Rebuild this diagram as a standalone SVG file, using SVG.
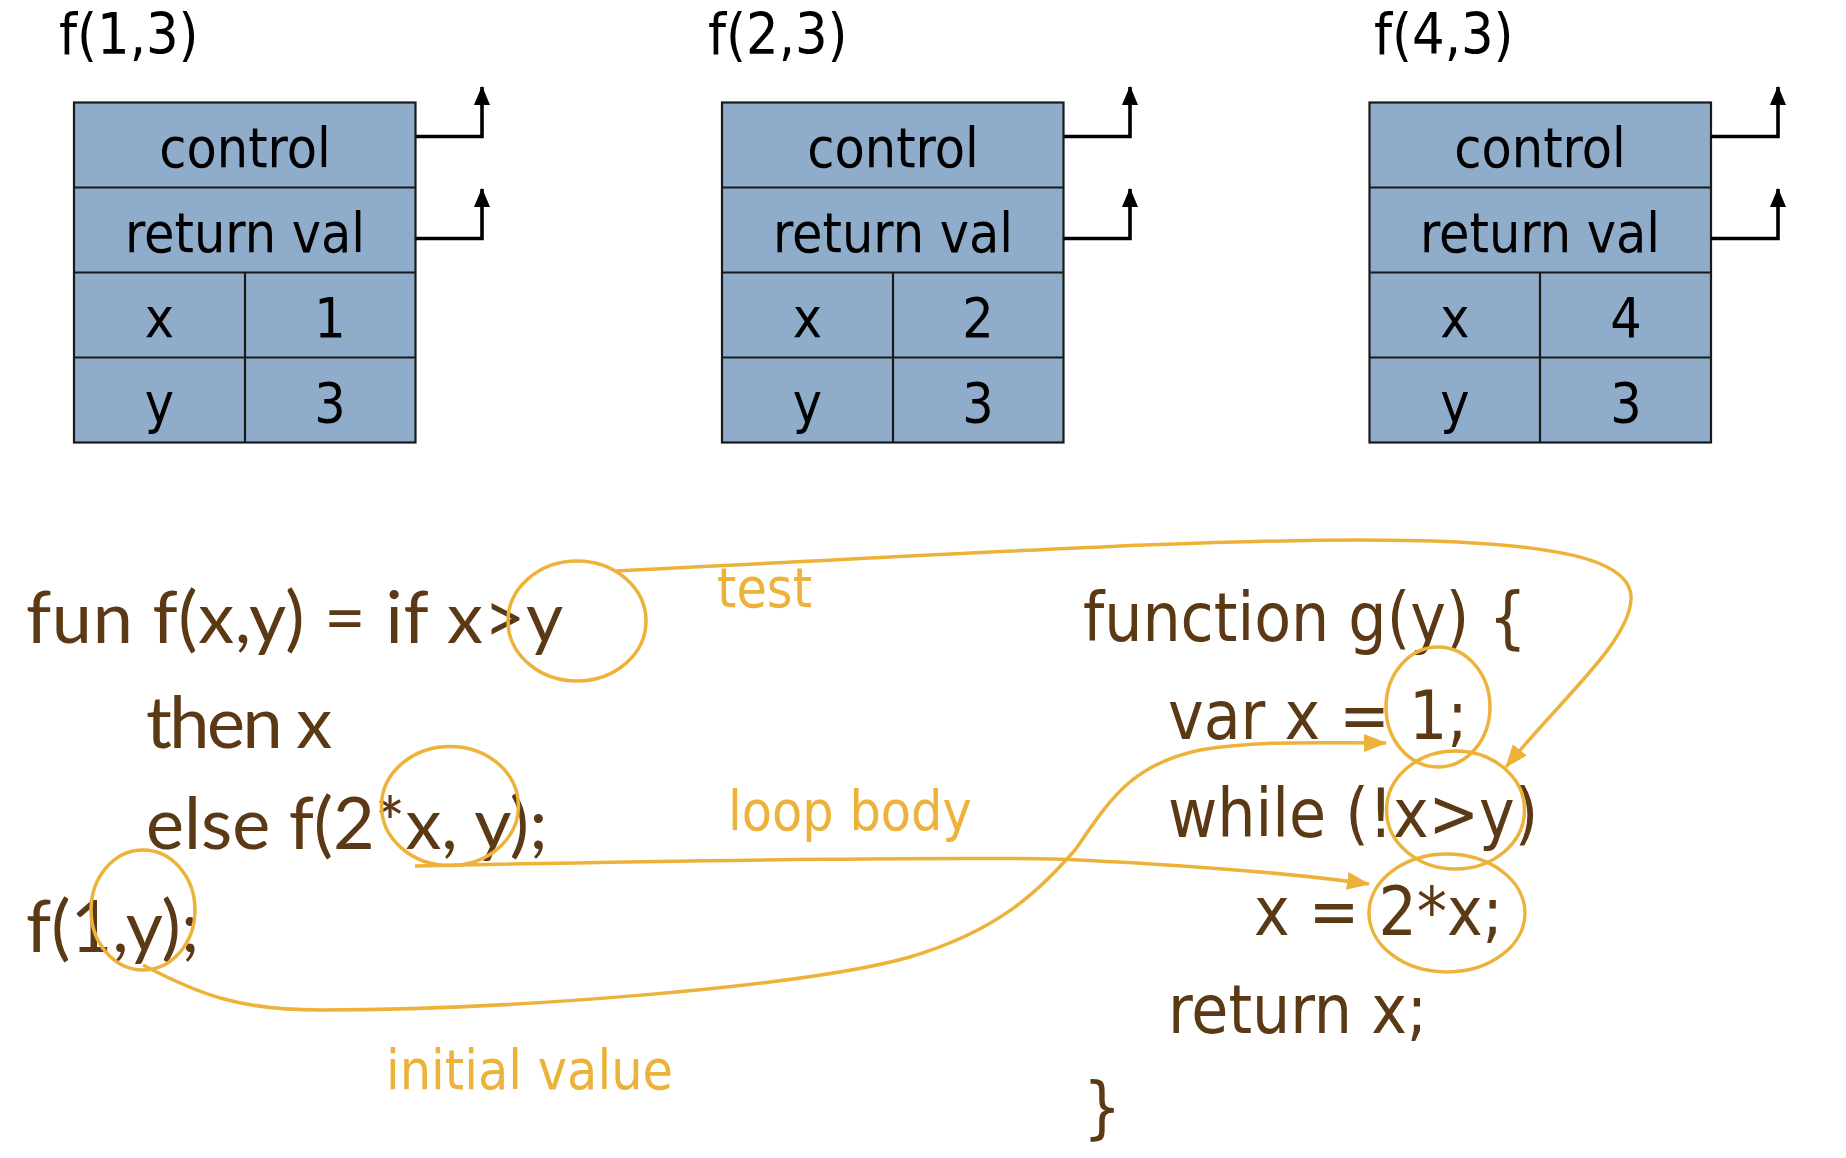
<svg xmlns="http://www.w3.org/2000/svg" width="1846" height="1158" viewBox="0 0 1846 1158">
<defs>
<style>
.bx{fill:#8FADCA;stroke:#1a1a1a;stroke-width:2.2}
.ln{stroke:#1a1a1a;stroke-width:2.2}
.t{font-family:"DejaVu Sans Condensed","DejaVu Sans",sans-serif;font-stretch:condensed;font-size:55px;fill:#000}
.h{font-size:57px}
.c{text-anchor:middle}
.blk{fill:none;stroke:#000;stroke-width:3.6}
.or{fill:none;stroke:#EDB23A;stroke-width:3.5}
.lc{font-family:Lato,sans-serif;font-size:72px;fill:#5A3914}
.rc{font-family:"DejaVu Sans Condensed","DejaVu Sans",sans-serif;font-stretch:condensed;font-size:67px;fill:#5A3914}
.lb{font-family:"DejaVu Sans Condensed","DejaVu Sans",sans-serif;font-stretch:condensed;font-size:55px;fill:#EDB23A}
</style>
<marker id="ab" markerUnits="userSpaceOnUse" markerWidth="20" markerHeight="18" refX="18" refY="8" orient="auto"><path d="M0,0 L19,8 L0,16 z" fill="#000"/></marker>
<marker id="ao" markerUnits="userSpaceOnUse" markerWidth="24" markerHeight="20" refX="22" refY="9" orient="auto"><path d="M0,0 L23,9 L0,18 z" fill="#EDB23A"/></marker>
</defs>
<rect width="1846" height="1158" fill="#fff"/>

<g id="frame1">
<text class="t h" x="59" y="54">f(1,3)</text>
<rect class="bx" x="74" y="102.5" width="341.5" height="340"/>
<line class="ln" x1="74" y1="187.5" x2="415.5" y2="187.5"/>
<line class="ln" x1="74" y1="272.5" x2="415.5" y2="272.5"/>
<line class="ln" x1="74" y1="357.5" x2="415.5" y2="357.5"/>
<line class="ln" x1="245" y1="272.5" x2="245" y2="442.5"/>
<text class="t c" x="245" y="167">control</text>
<text class="t c" x="245" y="252">return val</text>
<text class="t c" x="159.5" y="337">x</text>
<text class="t c" x="330" y="337">1</text>
<text class="t c" x="159.5" y="422">y</text>
<text class="t c" x="330" y="422">3</text>
</g>

<g id="frame2">
<text class="t h" x="708" y="54">f(2,3)</text>
<rect class="bx" x="722" y="102.5" width="341.5" height="340"/>
<line class="ln" x1="722" y1="187.5" x2="1063.5" y2="187.5"/>
<line class="ln" x1="722" y1="272.5" x2="1063.5" y2="272.5"/>
<line class="ln" x1="722" y1="357.5" x2="1063.5" y2="357.5"/>
<line class="ln" x1="893" y1="272.5" x2="893" y2="442.5"/>
<text class="t c" x="893" y="167">control</text>
<text class="t c" x="893" y="252">return val</text>
<text class="t c" x="807.5" y="337">x</text>
<text class="t c" x="978" y="337">2</text>
<text class="t c" x="807.5" y="422">y</text>
<text class="t c" x="978" y="422">3</text>
</g>

<g id="frame3">
<text class="t h" x="1374" y="54">f(4,3)</text>
<rect class="bx" x="1369.5" y="102.5" width="341.5" height="340"/>
<line class="ln" x1="1369.5" y1="187.5" x2="1711" y2="187.5"/>
<line class="ln" x1="1369.5" y1="272.5" x2="1711" y2="272.5"/>
<line class="ln" x1="1369.5" y1="357.5" x2="1711" y2="357.5"/>
<line class="ln" x1="1540" y1="272.5" x2="1540" y2="442.5"/>
<text class="t c" x="1540" y="167">control</text>
<text class="t c" x="1540" y="252">return val</text>
<text class="t c" x="1455" y="337">x</text>
<text class="t c" x="1626" y="337">4</text>
<text class="t c" x="1455" y="422">y</text>
<text class="t c" x="1626" y="422">3</text>
</g>

<g id="code-left">
<text class="lc" x="26" y="643" textLength="537" lengthAdjust="spacing">fun f(x,y) = if x&gt;y</text>
<text class="lc" x="146" y="748" textLength="186" lengthAdjust="spacing">then x</text>
<text class="lc" x="146" y="849">else f(2*x, y);</text>
<text class="lc" x="26" y="952">f(1,y);</text>
</g>

<g id="code-right">
<text class="rc" x="1083" y="641">function g(y) {</text>
<text class="rc" x="1168" y="739">var x = 1;</text>
<text class="rc" x="1168" y="837">while (!x&gt;y)</text>
<text class="rc" x="1254" y="935">x = 2*x;</text>
<text class="rc" x="1168" y="1033">return x;</text>
<text class="rc" x="1083" y="1131">}</text>
</g>

<g id="labels">
<text class="lb" x="717" y="607">test</text>
<text class="lb" x="728" y="830">loop body</text>
<text class="lb" x="386" y="1089">initial value</text>
</g>

<g id="highlights">
<ellipse class="or" cx="577" cy="621" rx="69" ry="60"/>
<ellipse class="or" cx="450" cy="806" rx="68.5" ry="59.5"/>
<ellipse class="or" cx="143" cy="910" rx="52" ry="60"/>
<ellipse class="or" cx="1438" cy="707" rx="52" ry="60"/>
<ellipse class="or" cx="1455.5" cy="810" rx="69" ry="59"/>
<ellipse class="or" cx="1447" cy="913" rx="78" ry="59"/>
</g>

<g id="connectors">
<path class="blk" d="M415.5,136.5 H482 V87" marker-end="url(#ab)"/>
<path class="blk" d="M415.5,238.5 H482 V189" marker-end="url(#ab)"/>
<path class="blk" d="M1063.5,136.5 H1130 V87" marker-end="url(#ab)"/>
<path class="blk" d="M1063.5,238.5 H1130 V189" marker-end="url(#ab)"/>
<path class="blk" d="M1711,136.5 H1778 V87" marker-end="url(#ab)"/>
<path class="blk" d="M1711,238.5 H1778 V189" marker-end="url(#ab)"/>
<path class="or" d="M616,571 C900,557 1180,540 1360,540 C1560,540 1630,560 1631,597 C1632,640 1560,700 1506,767" marker-end="url(#ao)"/>
<path class="or" d="M415,866 C700,860 1000,856 1080,860 C1200,866 1290,873 1369,884" marker-end="url(#ao)"/>
<path class="or" d="M143,965 C200,995 240,1010 320,1010 C500,1010 800,988 910,957 C1000,930 1040,890 1075,850 C1110,800 1130,765 1200,750 C1260,740 1320,743 1386,743" marker-end="url(#ao)"/>
</g>
</svg>
